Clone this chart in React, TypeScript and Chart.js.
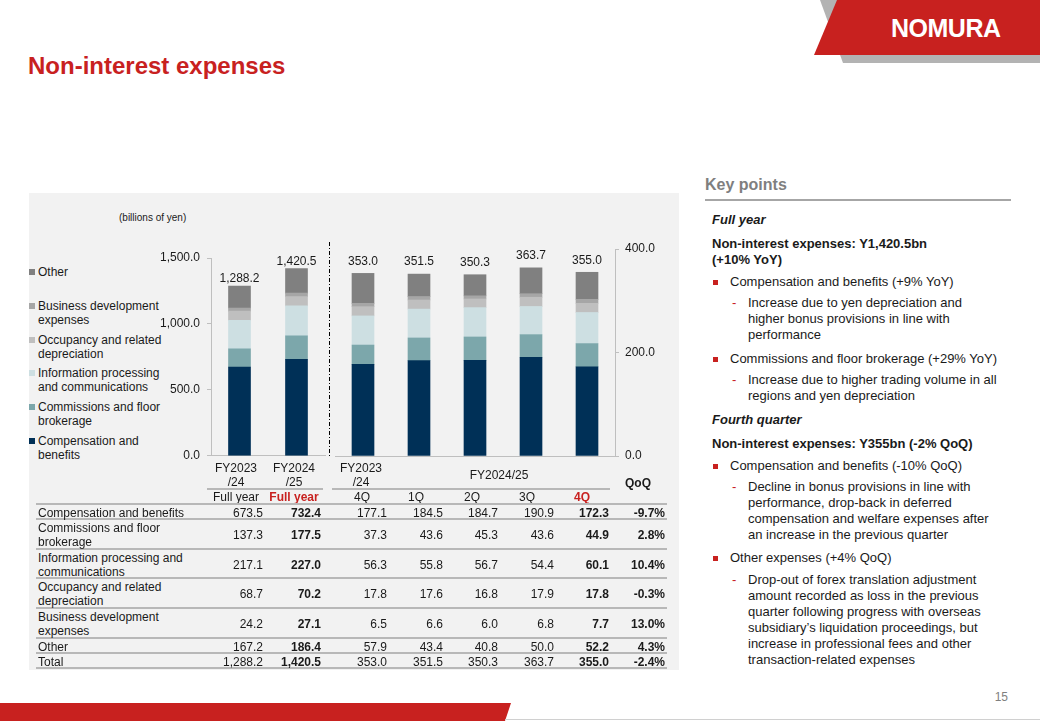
import React, { useEffect, useRef } from 'react';
import { Chart, registerables } from 'chart.js';

Chart.register(...registerables);

const FONT = "'Liberation Sans', Arial, Helvetica, sans-serif";
const RED = '#c8211f';
const TEXT = '#1a1a1a';

// ---- categories ----
const fullYearCategories = ['FY2023/24', 'FY2024/25'];
const quarterCategories = ['FY2023/24 4Q', 'FY2024/25 1Q', 'FY2024/25 2Q', 'FY2024/25 3Q', 'FY2024/25 4Q'];

// ---- series ----
const seriesNames = [
  'Compensation and benefits',
  'Commissions and floor brokerage',
  'Information processing and communications',
  'Occupancy and related depreciation',
  'Business development expenses',
  'Other',
];
const seriesColors = ['#003057', '#7ca7ab', '#cddfe2', '#bfbfbf', '#a6a6a6', '#808080'];

// ---- full-year values (billions of yen) ----
const compFY = [673.5, 732.4];
const commFY = [137.3, 177.5];
const infoFY = [217.1, 227.0];
const occFY = [68.7, 70.2];
const busFY = [24.2, 27.1];
const otherFY = [167.2, 186.4];
const totalFY = [1288.2, 1420.5];

// ---- quarterly values (billions of yen) ----
const compQ = [177.1, 184.5, 184.7, 190.9, 172.3];
const commQ = [37.3, 43.6, 45.3, 43.6, 44.9];
const infoQ = [56.3, 55.8, 56.7, 54.4, 60.1];
const occQ = [17.8, 17.6, 16.8, 17.9, 17.8];
const busQ = [6.5, 6.6, 6.0, 6.8, 7.7];
const otherQ = [57.9, 43.4, 40.8, 50.0, 52.2];
const totalQ = [353.0, 351.5, 350.3, 363.7, 355.0];

// ---- QoQ change (%) per table row ----
const qoq = [-9.7, 2.8, 10.4, -0.3, 13.0, 4.3, -2.4];

// ---- tick values ----
const fullYearTicks = [0, 500, 1000, 1500];
const quarterTicks = [0, 200, 400];

// ---- table header labels ----
const fyHeaderLabels = ['FY2023\n/24', 'FY2024\n/25'];
const qHeaderLeft = 'FY2023\n/24';
const qHeaderSpan = 'FY2024/25';
const subHeaderLabels = ['Full year', 'Full year', '4Q', '1Q', '2Q', '3Q', '4Q'];
const totalRowName = 'Total';

const fySeries = [compFY, commFY, infoFY, occFY, busFY, otherFY];
const qSeries = [compQ, commQ, infoQ, occQ, busQ, otherQ];

const fmt = (v: number) =>
  v.toLocaleString('en-US', { minimumFractionDigits: 1, maximumFractionDigits: 1 });

const totalsPlugin = (totals: number[], offset: number) => ({
  id: 'totals',
  afterDatasetsDraw(chart: any) {
    const ctx = chart.ctx;
    const meta = chart.getDatasetMeta(chart.data.datasets.length - 1);
    ctx.save();
    ctx.font = `12px ${FONT}`;
    ctx.fillStyle = TEXT;
    ctx.textAlign = 'center';
    ctx.textBaseline = 'middle';
    meta.data.forEach((el: any, i: number) => {
      ctx.fillText(fmt(totals[i]), el.x, el.y - offset);
    });
    ctx.restore();
  },
});

const dividerPlugin = {
  id: 'divider',
  afterDraw(chart: any) {
    const ctx = chart.ctx;
    ctx.save();
    ctx.strokeStyle = '#000';
    ctx.lineWidth = 1;
    ctx.setLineDash([4, 2, 1, 2]);
    const x = chart.width - 0.5;
    ctx.beginPath();
    ctx.moveTo(x, 2);
    ctx.lineTo(x, chart.chartArea.bottom + 1);
    ctx.stroke();
    ctx.restore();
  },
};

function buildChart(
  canvas: HTMLCanvasElement,
  labels: string[],
  series: number[][],
  totals: number[],
  ticks: number[],
  side: 'left' | 'right',
  labelOffset: number,
  extraPlugins: any[]
) {
  return new Chart(canvas, {
    type: 'bar',
    data: {
      labels,
      datasets: series.map((d, i) => ({
        label: seriesNames[i],
        data: d,
        backgroundColor: seriesColors[i],
        borderWidth: 0,
        barThickness: 22,
      })),
    },
    options: {
      responsive: false,
      animation: false,
      layout: {
        padding: side === 'left' ? { left: 0, right: 5, top: 18, bottom: 14 } : { left: 5, right: 0, top: 18, bottom: 14 },
      },
      plugins: { legend: { display: false }, tooltip: { enabled: false } },
      scales: {
        x: {
          stacked: true,
          offset: true,
          ticks: { display: false },
          grid: { display: false, drawTicks: false },
          border: { display: true, color: '#bfbfbf', width: 1 },
          afterFit: (s: any) => {
            s.height = 0;
          },
        },
        y: {
          stacked: true,
          position: side,
          min: ticks[0],
          max: ticks[ticks.length - 1],
          ticks: {
            stepSize: ticks[1] - ticks[0],
            padding: side === 'left' ? 7 : 6,
            color: TEXT,
            font: { family: FONT, size: 12 },
            callback: (v: any) => fmt(Number(v)),
          },
          grid: { drawOnChartArea: false, drawTicks: true, tickLength: 4, color: '#bfbfbf' },
          border: { display: true, color: '#bfbfbf', width: 1 },
          afterFit: (s: any) => {
            s.width = side === 'left' ? 61 : 60;
          },
        },
      },
    } as any,
    plugins: [totalsPlugin(totals, labelOffset), ...extraPlugins],
  });
}

const colRight = [263, 321, 387, 443, 498, 554, 609, 665];
const subHeaderCenters = [236, 294, 362, 416, 472, 527, 582];
const rowHeights = [15, 30, 29, 30, 30, 15, 15];
const TABLE_TOP = 504;

export default function App() {
  const leftRef = useRef<HTMLCanvasElement>(null);
  const rightRef = useRef<HTMLCanvasElement>(null);

  useEffect(() => {
    const c1 = buildChart(leftRef.current!, fullYearCategories, fySeries, totalFY, fullYearTicks, 'left', 7, [dividerPlugin]);
    const c2 = buildChart(rightRef.current!, quarterCategories, qSeries, totalQ, quarterTicks, 'right', 12, []);
    return () => {
      c1.destroy();
      c2.destroy();
    };
  }, []);

  const abs = (s: any) => ({ position: 'absolute' as const, ...s });

  // table rows
  const tableRows = seriesNames.map((name, i) => ({
    name,
    values: [fySeries[i][0], fySeries[i][1], ...qSeries[i]],
    qoq: qoq[i],
  }));
  tableRows.push({ name: totalRowName, values: [totalFY[0], totalFY[1], ...totalQ], qoq: qoq[6] });

  let y = TABLE_TOP;
  const rowTops: number[] = [];
  rowHeights.forEach((h) => {
    rowTops.push(y);
    y += h;
  });
  const lineYs = [TABLE_TOP, ...rowTops.map((t, i) => t + rowHeights[i])];

  const legendTops = [265, 299, 333, 366, 400, 434];
  const legendItems = seriesNames.map((n, i) => ({ n, c: seriesColors[i] })).reverse();

  const line16 = { fontSize: 13, lineHeight: '16px', whiteSpace: 'pre' as const };

  const bullet = (top: number, text: string) => (
    <>
      <div style={abs({ left: 713, top: top + 6, width: 5, height: 5, background: RED })} />
      <div style={abs({ left: 730, top, ...line16 })}>{text}</div>
    </>
  );
  const sub = (top: number, text: string) => (
    <>
      <div style={abs({ left: 732, top, ...line16, color: RED })}>-</div>
      <div style={abs({ left: 748, top, ...line16 })}>{text}</div>
    </>
  );

  return (
    <div
      style={{
        position: 'absolute',
        left: 0,
        top: 0,
        width: 1040,
        height: 721,
        background: '#fff',
        overflow: 'hidden',
        fontFamily: FONT,
        color: TEXT,
      }}
    >
      {/* logo */}
      <div style={abs({ left: 0, top: 0, width: 1040, height: 70, background: '#b3b3b3', clipPath: 'polygon(820px 0, 1040px 0, 1040px 63px, 843px 63px)' })} />
      <div style={abs({ left: 0, top: 0, width: 1040, height: 70, background: RED, clipPath: 'polygon(837px 0, 1040px 0, 1040px 55px, 814px 55px)' })} />
      <div style={abs({ left: 891, top: 13, fontSize: 25, lineHeight: '30px', fontWeight: 700, color: '#fff', letterSpacing: '-0.5px' })}>NOMURA</div>

      {/* title */}
      <div style={abs({ left: 28, top: 52, fontSize: 24, lineHeight: '28px', fontWeight: 700, color: RED })}>Non-interest expenses</div>

      {/* panel */}
      <div style={abs({ left: 29, top: 193, width: 650, height: 477, background: '#f2f2f2' })} />

      <div style={abs({ left: 119, top: 212, fontSize: 10, lineHeight: '12px' })}>(billions of yen)</div>

      {/* legend */}
      {legendItems.map((it, i) => (
        <div key={i}>
          <div style={abs({ left: 29, top: legendTops[i] + 4, width: 6, height: 6, background: it.c })} />
          <div style={abs({ left: 38, top: legendTops[i], width: 130, fontSize: 12, lineHeight: '14px' })}>{it.n}</div>
        </div>
      ))}

      {/* charts */}
      <canvas ref={leftRef} width={180} height={230} style={abs({ left: 150, top: 240, width: 180, height: 230 })} />
      <canvas ref={rightRef} width={345} height={239} style={abs({ left: 330, top: 231, width: 345, height: 239 })} />

      {/* table header */}
      {fyHeaderLabels.map((t, i) => (
        <div key={i} style={abs({ left: subHeaderCenters[i] - 40, top: 461, width: 80, textAlign: 'center', fontSize: 12, lineHeight: '14px', whiteSpace: 'pre' })}>{t}</div>
      ))}
      <div style={abs({ left: 321, top: 461, width: 80, textAlign: 'center', fontSize: 12, lineHeight: '14px', whiteSpace: 'pre' })}>{qHeaderLeft}</div>
      <div style={abs({ left: 449, top: 468, width: 100, textAlign: 'center', fontSize: 12, lineHeight: '14px' })}>{qHeaderSpan}</div>
      <div style={abs({ left: 608, top: 476, width: 60, textAlign: 'center', fontSize: 12, lineHeight: '14px', fontWeight: 700 })}>QoQ</div>
      <div style={abs({ left: 207, top: 488, width: 116, height: 2, background: '#b8b8b8' })} />
      <div style={abs({ left: 332, top: 488, width: 278, height: 2, background: '#b8b8b8' })} />
      {subHeaderLabels.map((t, i) => {
        const hl = i === 1 || i === 6;
        return (
          <div key={i} style={abs({ left: subHeaderCenters[i] - 40, top: 490, width: 80, textAlign: 'center', fontSize: 12, lineHeight: '14px', color: hl ? RED : TEXT, fontWeight: hl ? 700 : 400 })}>{t}</div>
        );
      })}

      {/* table lines */}
      {lineYs.map((ly, i) => (
        <div key={i} style={abs({ left: 36, top: ly - 1, width: 631, height: 2, background: '#b8b8b8' })} />
      ))}

      {/* table body */}
      {tableRows.map((r, ri) => (
        <div key={ri}>
          <div style={abs({ left: 38, top: rowTops[ri], width: 155, height: rowHeights[ri], paddingTop: 2, boxSizing: 'border-box', display: 'flex', alignItems: 'center', fontSize: 12, lineHeight: '14px' })}>
            <span>{r.name}</span>
          </div>
          {r.values.map((v, ci) => {
            const bold = ci === 1 || ci === 6;
            return (
              <div key={ci} style={abs({ left: colRight[ci] - 80, top: rowTops[ri], width: 80, height: rowHeights[ri], paddingTop: 2, boxSizing: 'border-box', display: 'flex', alignItems: 'center', justifyContent: 'flex-end', fontSize: 12, lineHeight: '14px', fontWeight: bold ? 700 : 400 })}>
                {fmt(v)}
              </div>
            );
          })}
          <div style={abs({ left: colRight[7] - 80, top: rowTops[ri], width: 80, height: rowHeights[ri], paddingTop: 2, boxSizing: 'border-box', display: 'flex', alignItems: 'center', justifyContent: 'flex-end', fontSize: 12, lineHeight: '14px', fontWeight: 700 })}>
            {r.qoq.toFixed(1) + '%'}
          </div>
        </div>
      ))}

      {/* key points */}
      <div style={abs({ left: 705, top: 175, fontSize: 16, lineHeight: '20px', fontWeight: 700, color: '#7f7f7f' })}>Key points</div>
      <div style={abs({ left: 705, top: 199, width: 306, height: 2, background: '#a6a6a6' })} />

      <div style={abs({ left: 712, top: 212, ...line16, fontWeight: 700, fontStyle: 'italic' })}>Full year</div>
      <div style={abs({ left: 712, top: 236, ...line16, fontWeight: 700 })}>{'Non-interest expenses: Y1,420.5bn\n(+10% YoY)'}</div>
      {bullet(274, 'Compensation and benefits (+9% YoY)')}
      {sub(295, 'Increase due to yen depreciation and\nhigher bonus provisions in line with\nperformance')}
      {bullet(351, 'Commissions and floor brokerage (+29% YoY)')}
      {sub(372, 'Increase due to higher trading volume in all\nregions and yen depreciation')}

      <div style={abs({ left: 712, top: 412, ...line16, fontWeight: 700, fontStyle: 'italic' })}>Fourth quarter</div>
      <div style={abs({ left: 712, top: 436, ...line16, fontWeight: 700 })}>Non-interest expenses: Y355bn (-2% QoQ)</div>
      {bullet(458, 'Compensation and benefits (-10% QoQ)')}
      {sub(479, 'Decline in bonus provisions in line with\nperformance, drop-back in deferred\ncompensation and welfare expenses after\nan increase in the previous quarter')}
      {bullet(550, 'Other expenses (+4% QoQ)')}
      {sub(572, 'Drop-out of forex translation adjustment\namount recorded as loss in the previous\nquarter following progress with overseas\nsubsidiary\u2019s liquidation proceedings, but\nincrease in professional fees and other\ntransaction-related expenses')}

      {/* footer */}
      <div style={abs({ left: 0, top: 703, width: 520, height: 18, background: RED, clipPath: 'polygon(0 0, 511px 0, 505px 18px, 0 18px)' })} />
      <div style={abs({ left: 505, top: 719, width: 535, height: 1, background: '#d0d0d0' })} />
      <div style={abs({ left: 968, top: 690, width: 40, textAlign: 'right', fontSize: 12, lineHeight: '14px', color: '#7f7f7f' })}>15</div>
    </div>
  );
}
